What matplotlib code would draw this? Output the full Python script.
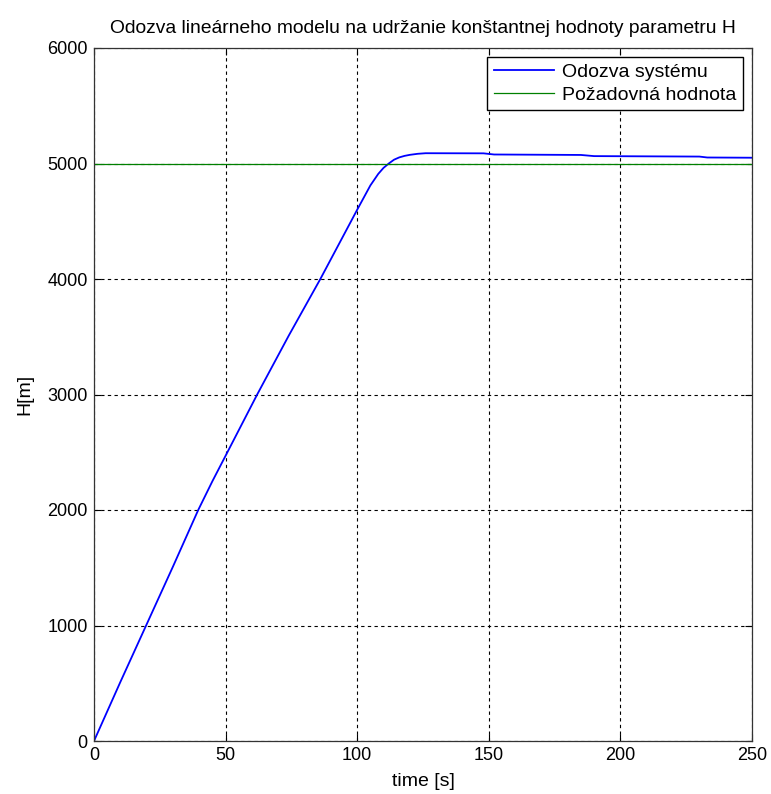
import matplotlib
matplotlib.use('Agg')
import matplotlib.pyplot as plt

plt.rcParams['font.family'] = ['Liberation Sans', 'DejaVu Sans']

# Response of the linear model
time_s = [0, 10, 20, 30, 39.6, 45, 50, 62, 74, 86, 100, 105, 108, 110, 112,
          114, 116, 118, 120, 123, 126, 148, 152, 185, 190, 230, 233, 250]
height_m = [0, 510, 1010, 1510, 2000, 2250, 2470, 3000, 3510, 4000, 4600,
            4810, 4910, 4962, 5000, 5033, 5053, 5066, 5075, 5084, 5089,
            5088, 5078, 5074, 5064, 5060, 5052, 5050]

# Required value
setpoint_t = [0, 250]
setpoint_h = [5000, 5000]

x_ticks = [0, 50, 100, 150, 200, 250]
y_ticks = [0, 1000, 2000, 3000, 4000, 5000, 6000]

fig = plt.figure(figsize=(7.71, 7.94), dpi=100)
ax = fig.add_axes([94 / 771, 53 / 794, 658 / 771, 693 / 794])

ax.plot(time_s, height_m, color='#0000FF', lw=1.3, label='Odozva systému')
ax.plot(setpoint_t, setpoint_h, color='#008000', lw=0.9, label='Požadovná hodnota')

ax.set_xlim(0, 250)
ax.set_ylim(0, 6000)
ax.set_xticks(x_ticks)
ax.set_yticks(y_ticks)
ax.tick_params(direction='in', top=True, right=True, length=5, labelsize=13,
               width=0.8, pad=4.5)
ax.grid(True, color='black', linestyle=(0, (3, 3)), linewidth=0.8)
for s in ax.spines.values():
    s.set_linewidth(0.9)
    s.set_color('#333333')

ax.set_title('Odozva lineárneho modelu na udržanie konštantnej hodnoty parametru H',
             fontsize=13.9, pad=11)
ax.set_xlabel('time [s]', fontsize=14, labelpad=6)
ax.set_ylabel('H[m]', fontsize=14, labelpad=10)

leg = ax.legend(loc='upper right', fontsize=14, fancybox=False, framealpha=1,
                edgecolor='black', borderaxespad=0.45, handlelength=3.1,
                handletextpad=0.4, borderpad=0.35, labelspacing=0.25)
leg.get_frame().set_linewidth(1.0)

fig.savefig('out.png', dpi=100)
